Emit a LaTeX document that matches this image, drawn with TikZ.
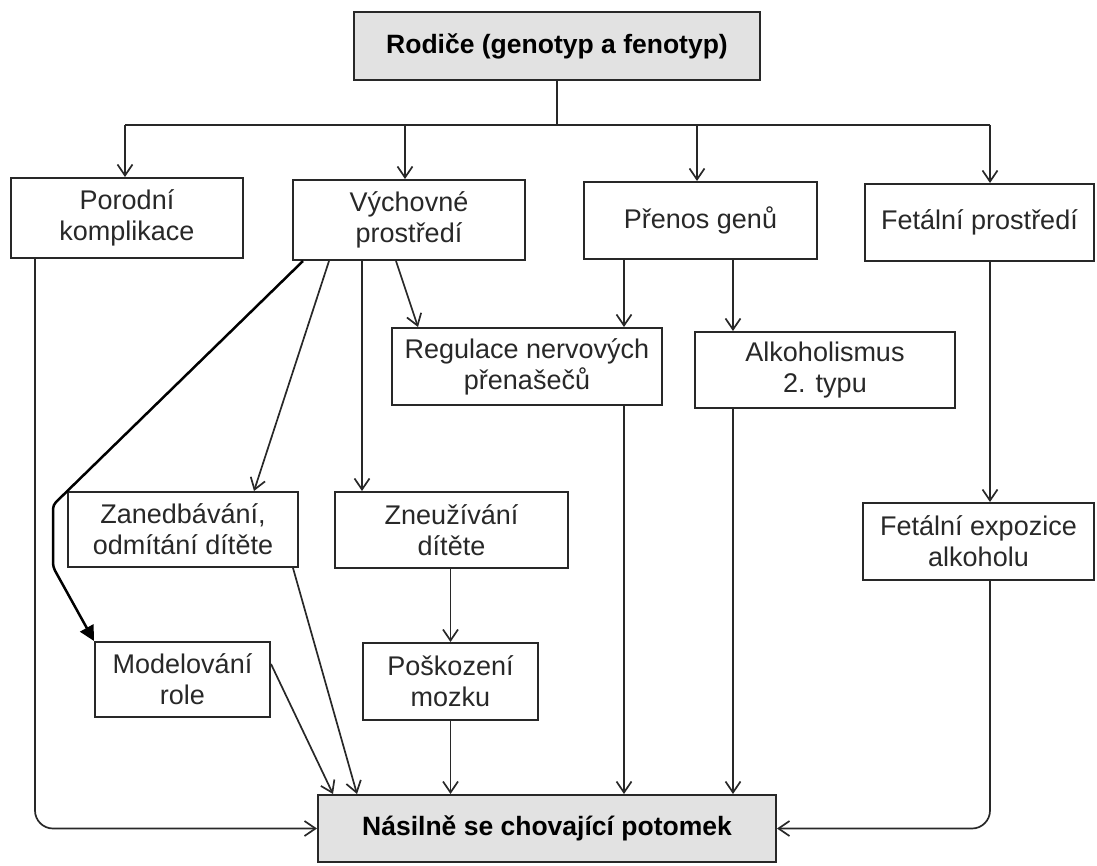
\documentclass[tikz,border=0pt]{standalone}
\usepackage{fontspec}
\setmainfont{Liberation Sans}
\usetikzlibrary{arrows.meta}
\definecolor{ink}{RGB}{40,40,40}
\definecolor{boxgray}{RGB}{226,226,226}
\tikzset{
  box/.style={draw=ink, line width=2pt, fill=white, align=center, inner sep=0pt,
    font=\fontsize{27}{31}\selectfont, text=ink},
  graybox/.style={box, fill=boxgray, font=\fontsize{26.5}{30}\selectfont\bfseries, text=black},
  conn/.style={draw=ink, line width=1.7pt},
  arr/.style={conn, -{Straight Barb[length=11pt,width=15pt]}},
  thickarr/.style={draw=black, line width=2.5pt, -{Triangle[length=15pt,width=15pt]}, rounded corners=4pt},
}
\begin{document}
\begin{tikzpicture}[x=1pt,y=-1pt]
\useasboundingbox (0,0) rectangle (1097,866);
% boxes
\node[graybox, minimum width=406pt, minimum height=68pt] (top) at (557,46) {Rodiče (genotyp a fenotyp)};
\node[box, minimum width=232pt, minimum height=80pt] (por) at (127,218) {Porodní\\komplikace};
\node[box, minimum width=232pt, minimum height=80pt] (vych) at (409,220) {Výchovné\\prostředí};
\node[box, minimum width=233pt, minimum height=77pt] (pren) at (700.5,220.5) {Přenos genů};
\node[box, minimum width=229pt, minimum height=77pt] (fet) at (979.5,222.5) {Fetální prostředí};
\node[box, minimum width=270pt, minimum height=77pt] (reg) at (527,366.5) {Regulace nervových\\přenašečů};
\node[box, minimum width=260pt, minimum height=76pt] (alk) at (825,370) {Alkoholismus\\2. typu};
\node[box, minimum width=230pt, minimum height=75pt] (zan) at (183,529.5) {Zanedbávání,\\odmítání dítěte};
\node[box, minimum width=233pt, minimum height=76pt] (zne) at (451.5,530) {Zneužívání\\dítěte};
\node[box, minimum width=231pt, minimum height=77pt] (fexp) at (978.5,541.5) {Fetální expozice\\alkoholu};
\node[box, minimum width=175pt, minimum height=75pt] (mod) at (182.5,679.5) {Modelování\\role};
\node[box, minimum width=175pt, minimum height=77pt] (pos) at (450.5,681.5) {Poškození\\mozku};
\node[graybox, minimum width=458pt, minimum height=67pt] (nas) at (547,828.5) {Násilně se chovající potomek};

% distribution from top
\coordinate (h1) at (125,125);
\coordinate (h2) at (405,125);
\coordinate (h3) at (697,125);
\coordinate (h4) at (990,125);
\draw[conn] (top.south) -- (top.south |- h1);
\draw[conn] (h1) -- (h4);
\draw[arr] (h1) -- (h1 |- por.north);
\draw[arr] (h2) -- (h2 |- vych.north);
\draw[arr] (h3) -- (h3 |- pren.north);
\draw[arr] (h4) -- (h4 |- fet.north);

% Vychovne prostredi
\draw[arr] ([xshift=-13pt]vych.south) -- ([xshift=-109pt]reg.north);
\draw[arr] ([xshift=-47pt]vych.south) -- ([xshift=-47pt]vych.south |- zne.north);
\draw[arr] ([xshift=-80pt]vych.south) -- ([xshift=71pt]zan.north);
\coordinate (b1) at (53,505);
\coordinate (b2) at (53,567);
\draw[thickarr] ([xshift=11pt]vych.south west) -- (b1) -- (b2) -- (mod.north west);

% Prenos genu
\coordinate (c1) at (624,0);
\coordinate (c2) at (733,0);
\draw[arr] (c1 |- pren.south) -- (c1 |- reg.north);
\draw[arr] (c2 |- pren.south) -- (c2 |- alk.north);
\draw[arr] (c1 |- reg.south) -- (c1 |- nas.north);
\draw[arr] (c2 |- alk.south) -- (c2 |- nas.north);

% Fetalni
\draw[arr] (h4 |- fet.south) -- (h4 |- fexp.north);
\draw[arr, rounded corners=18pt] (h4 |- fexp.south) |- (nas.east);

% Porodni
\draw[arr, rounded corners=18pt] ([xshift=25pt]por.south west) |- (nas.west);

% lower left
\draw[arr] (zne.south -| pos.south) -- (pos.north);
\draw[arr] (pos.south) -- (pos.south |- nas.north);
\draw[arr] ([xshift=-6pt]zan.south east) -- ([xshift=-190pt]nas.north);
\draw[arr] ([yshift=15.5pt]mod.east) -- ([xshift=-214pt]nas.north);
\end{tikzpicture}
\end{document}
